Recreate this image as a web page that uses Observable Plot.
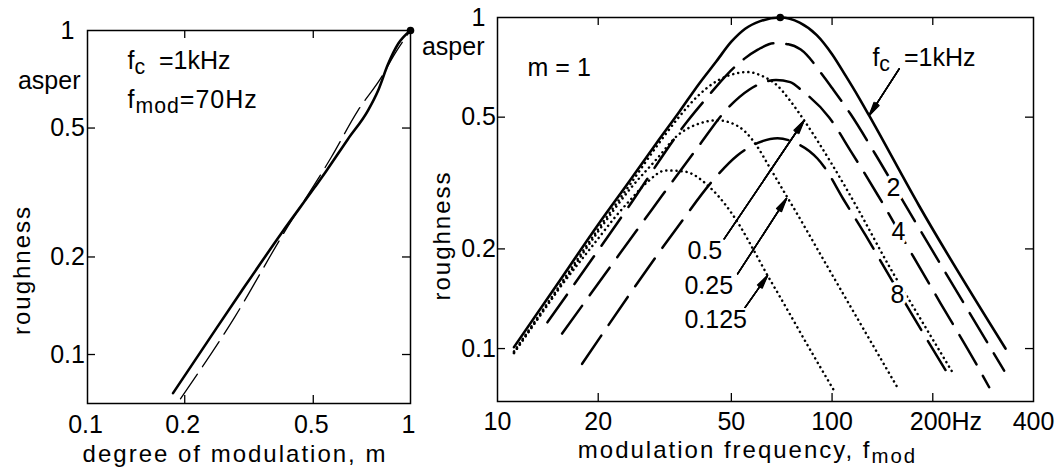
<!DOCTYPE html>
<html>
<head>
<meta charset="utf-8">
<script src="https://cdn.jsdelivr.net/npm/d3@7"></script>
<script src="https://cdn.jsdelivr.net/npm/@observablehq/plot@0.6"></script>
<style>
  html, body { margin: 0; padding: 0; background: #fff; }
  #wrap { position: relative; width: 1059px; height: 469px; overflow: hidden; background: #fff; }
  #left { position: absolute; left: 0; top: 0; }
  #right { position: absolute; left: 430px; top: 0; }
  svg { overflow: visible; }
</style>
</head>
<body>
<div id="wrap"><div id="left"></div><div id="right"></div></div>
<script>
// ---------- data: left panel (roughness vs degree of modulation, fc = 1 kHz, fmod = 70 Hz)
const mSolid   = [0.184, 0.25, 0.3, 0.4, 0.505, 0.548, 0.64, 0.739, 0.794, 0.853, 0.916, 1.0];
const rSolidM  = [0.076, 0.120, 0.157, 0.238, 0.328, 0.368, 0.462, 0.567, 0.653, 0.789, 0.910, 1.0];
const mDash    = [0.194, 0.285, 0.4, 0.569, 0.688, 0.813, 0.894, 1.0];
const rDashM   = [0.073, 0.130, 0.232, 0.407, 0.567, 0.718, 0.847, 1.0];
const leftXTicks = [0.1, 0.2, 0.5, 1];
const leftYTicks = [0.1, 0.2, 0.5, 1];

// ---------- data: right panel (roughness vs modulation frequency, m = 1)
const fmod_1k   = [11.2, 15, 20, 25, 30, 35, 40, 45, 50, 55, 61, 70, 80, 90, 100, 110, 120, 129, 182, 330];
const rough_1k  = [0.101, 0.155, 0.237, 0.324, 0.42, 0.52, 0.63, 0.735, 0.845, 0.925, 0.975, 1.0, 0.965, 0.885, 0.775, 0.665, 0.575, 0.506, 0.27, 0.1];
const fmod_2k   = [14.1, 24.2, 36.9, 42.4, 48.7, 54.6, 60, 67, 74, 80.6, 94.7, 100.3, 113.7, 135, 164.3, 326.8];
const rough_2k  = [0.120, 0.261, 0.485, 0.575, 0.675, 0.75, 0.80, 0.836, 0.83, 0.80, 0.66, 0.61, 0.51, 0.385, 0.275, 0.0858];
const fmod_4k   = [15.6, 29.1, 40, 48.1, 56.5, 62, 68, 75, 81.5, 97.9, 113.7, 137.2, 169.7, 211, 272, 294.8];
const rough_4k  = [0.111, 0.265, 0.41, 0.524, 0.605, 0.635, 0.648, 0.638, 0.60, 0.50, 0.395, 0.29, 0.2, 0.137, 0.0885, 0.0764];
const fmod_8k   = [17.9, 34.5, 44.4, 52.1, 60, 68.7, 77, 90.4, 94.5, 108, 125.9, 141.4, 171.5, 218.8];
const rough_8k  = [0.0899, 0.2325, 0.325, 0.383, 0.418, 0.432, 0.42, 0.375, 0.355, 0.283, 0.22, 0.18, 0.129, 0.0858];
const fmod_05k  = [11.2, 15, 20, 25, 30, 34.5, 39.6, 45.5, 50, 55.9, 62, 68.6, 75, 82.5, 100, 119.2, 149.7, 177.8, 229];
const rough_05k = [0.098, 0.15, 0.23, 0.315, 0.41, 0.494, 0.578, 0.645, 0.672, 0.684, 0.665, 0.623, 0.56, 0.489, 0.36, 0.265, 0.174, 0.130, 0.0848];
const fmod_025k = [11.2, 15, 20, 25, 30, 34.5, 40, 45.5, 50, 54.6, 60, 64.2, 73.4, 76.1, 95, 119.2, 156.7];
const rough_025k= [0.097, 0.148, 0.226, 0.305, 0.375, 0.44, 0.478, 0.489, 0.48, 0.455, 0.405, 0.361, 0.287, 0.27, 0.183, 0.123, 0.0764];
const fmod_0125k= [11.2, 15, 20, 22.5, 25, 28, 31.8, 36, 43.4, 47.6, 53, 58.5, 64.2, 68.6, 86.6, 101.4];
const rough_0125k=[0.097, 0.148, 0.215, 0.25, 0.282, 0.318, 0.345, 0.343, 0.305, 0.275, 0.235, 0.197, 0.166, 0.148, 0.098, 0.0746];
const rightXTicks = [10, 20, 50, 100, 200, 400];
const rightXTickLabels = ["10", "20", "50", "100", "200Hz", "400"];
const rightYTicks = [0.1, 0.2, 0.5, 1];

const zip = (xs, ys) => xs.map((x, i) => ({x, y: ys[i]}));
const FONT = "'Liberation Sans', Arial, Helvetica, sans-serif";
const labelTexts = new Set(["roughness", "degree of modulation, m", "modulation frequency, f{mod}"]);
const noteTexts = new Set(["f{mod}=70Hz"]);

function arrowMarks(data) {
  return [24, 16, 10, 5].map(a => Plot.arrow(data, {
    x1: "x1", y1: "y1", x2: "x2", y2: "y2",
    headAngle: a, headLength: 15, strokeWidth: 1.4, stroke: "black"
  }));
}

function finishText(svg) {
  d3.select(svg).selectAll("text").each(function() {
    const t = this.textContent;
    if (labelTexts.has(t)) this.style.letterSpacing = "2px";
    if (noteTexts.has(t)) this.style.letterSpacing = "1px";
    if (t.includes("{")) {
      const parts = t.split(/(\{[^}]*\})/).filter(p => p.length);
      this.textContent = "";
      let shifted = false;
      for (const p of parts) {
        const ts = d3.select(this).append("tspan");
        if (p.startsWith("{")) {
          ts.text(p.slice(1, -1)).attr("font-size", "0.85em").attr("dy", shifted ? 0 : 5);
          shifted = true;
        } else {
          ts.text(p).attr("dy", shifted ? -5 : 0);
          shifted = false;
        }
      }
    }
  });
}

// ---------------- left panel
const LH = 403 - 30, LW = 410 - 87;
const left = Plot.plot({
  width: 430, height: 469,
  marginLeft: 87, marginRight: 20, marginTop: 30, marginBottom: 66,
  x: {type: "log", domain: [0.1, 1], axis: null},
  y: {type: "log", domain: [0.0706, 1], axis: null},
  style: {fontFamily: FONT, fontSize: "25px", color: "black", background: "white"},
  marks: [
    Plot.frame({stroke: "black", strokeWidth: 1.5}),
    Plot.tickX(leftXTicks.slice(1, -1), {x: d => d, insetTop: LH - 8, strokeWidth: 1.3}),
    Plot.tickX(leftXTicks.slice(1, -1), {x: d => d, insetBottom: LH - 8, strokeWidth: 1.3}),
    Plot.tickY(leftYTicks.slice(0, -1), {y: d => d, insetRight: LW - 8, strokeWidth: 1.3}),
    Plot.tickY(leftYTicks.slice(0, -1), {y: d => d, insetLeft: LW - 8, strokeWidth: 1.3}),
    Plot.text(leftXTicks, {x: d => d, frameAnchor: "bottom", textAnchor: "middle", lineAnchor: "top", dy: 12, dx: -2, text: d => String(d)}),
    Plot.text(leftYTicks, {y: d => d, frameAnchor: "left", textAnchor: "middle", dx: -20, text: d => String(d)}),
    Plot.line(zip(mDash, rDashM), {x: "x", y: "y", stroke: "black", strokeWidth: 1.3, strokeDasharray: "30,9", curve: "monotone-x"}),
    Plot.line(zip(mSolid, rSolidM), {x: "x", y: "y", stroke: "black", strokeWidth: 2.6, curve: "monotone-x"}),
    Plot.dot([[1, 1]], {x: d => d[0], y: d => d[1], r: 3.8, fill: "black"}),
    Plot.text(["f{c}\u00A0 =1kHz"], {x: () => 0.133, y: () => 0.763, textAnchor: "start", lineAnchor: "bottom", text: d => d}),
    Plot.text(["f{mod}=70Hz"], {x: () => 0.133, y: () => 0.578, textAnchor: "start", lineAnchor: "bottom", text: d => d}),
    Plot.text(["asper"], {y: () => 0.662, frameAnchor: "left", textAnchor: "end", lineAnchor: "bottom", dx: -7, text: d => d}),
    Plot.text(["roughness"], {frameAnchor: "left", textAnchor: "middle", rotate: -90, dx: -58, dy: 53, lineAnchor: "bottom", text: d => d, fontSize: 24}),
    Plot.text(["degree of modulation, m"], {frameAnchor: "bottom", textAnchor: "middle", dx: -14, dy: 58, lineAnchor: "bottom", text: d => d, fontSize: 24})
  ]
});
finishText(left);
document.getElementById("left").appendChild(left);

// ---------------- right panel
const RH = 401 - 17, RW = 1033 - 497;
const dashed = {stroke: "black", strokeWidth: 2.5, strokeDasharray: "34,13", curve: "monotone-x"};
const dotted = {stroke: "black", strokeWidth: 2.5, strokeDasharray: "0.1,5", strokeLinecap: "round", curve: "monotone-x"};
const halo = {stroke: "white", strokeWidth: 7, fill: "black"};
const right = Plot.plot({
  width: 629, height: 469,
  marginLeft: 67, marginRight: 26, marginTop: 17, marginBottom: 68,
  x: {type: "log", domain: [10, 400], axis: null},
  y: {type: "log", domain: [0.0692, 1], axis: null},
  style: {fontFamily: FONT, fontSize: "25px", color: "black", background: "white"},
  marks: [
    Plot.frame({stroke: "black", strokeWidth: 1.5}),
    Plot.tickX(rightXTicks.slice(1, -1), {x: d => d, insetTop: RH - 8, strokeWidth: 1.3}),
    Plot.tickX(rightXTicks.slice(1, -1), {x: d => d, insetBottom: RH - 8, strokeWidth: 1.3}),
    Plot.tickY(rightYTicks.slice(0, -1), {y: d => d, insetRight: RW - 8, strokeWidth: 1.3}),
    Plot.tickY(rightYTicks.slice(0, -1), {y: d => d, insetLeft: RW - 8, strokeWidth: 1.3}),
    Plot.text(rightXTicks.filter((d, i) => !rightXTickLabels[i].includes("Hz")),
      {x: d => d, frameAnchor: "bottom", textAnchor: "middle", lineAnchor: "top", dy: 11, text: d => rightXTickLabels[rightXTicks.indexOf(d)]}),
    Plot.text(rightXTicks.filter((d, i) => rightXTickLabels[i].includes("Hz")),
      {x: d => d, frameAnchor: "bottom", lineAnchor: "top", dy: 11, textAnchor: "start", dx: -23, text: d => rightXTickLabels[rightXTicks.indexOf(d)]}),
    Plot.text(rightYTicks, {y: d => d, frameAnchor: "left", textAnchor: "middle", dx: -19, text: d => String(d)}),
    // curves
    Plot.line(zip(fmod_0125k, rough_0125k), {x: "x", y: "y", ...dotted}),
    Plot.line(zip(fmod_025k, rough_025k), {x: "x", y: "y", ...dotted}),
    Plot.line(zip(fmod_05k, rough_05k), {x: "x", y: "y", ...dotted}),
    Plot.line(zip(fmod_8k, rough_8k), {x: "x", y: "y", ...dashed}),
    Plot.line(zip(fmod_4k, rough_4k), {x: "x", y: "y", ...dashed}),
    Plot.line(zip(fmod_2k, rough_2k), {x: "x", y: "y", ...dashed}),
    Plot.line(zip(fmod_1k, rough_1k), {x: "x", y: "y", stroke: "black", strokeWidth: 2.6, curve: "monotone-x"}),
    Plot.dot([[70, 1]], {x: d => d[0], y: d => d[1], r: 3.8, fill: "black"}),
    // annotations
    ...arrowMarks([
      {x1: 158.7, y1: 0.700, x2: 129.1, y2: 0.506},
      {x1: 47.6, y1: 0.2145, x2: 82.5, y2: 0.4885},
      {x1: 52.2, y1: 0.168, x2: 73.1, y2: 0.284},
      {x1: 54.6, y1: 0.1318, x2: 64.1, y2: 0.166}
    ]),
    Plot.text(["2"], {x: () => 152.6, y: () => 0.3064, ...halo, text: d => d}),
    Plot.text(["4"], {x: () => 157.9, y: () => 0.2257, ...halo, text: d => d}),
    Plot.text(["8"], {x: () => 156.8, y: () => 0.1456, ...halo, text: d => d}),
    Plot.text(["0.5"], {x: () => 36.98, y: () => 0.187, textAnchor: "start", lineAnchor: "bottom", ...halo, strokeWidth: 4, text: d => d}),
    Plot.text(["0.25"], {x: () => 36.2, y: () => 0.1466, textAnchor: "start", lineAnchor: "bottom", ...halo, strokeWidth: 4, text: d => d}),
    Plot.text(["0.125"], {x: () => 36.2, y: () => 0.1157, textAnchor: "start", lineAnchor: "bottom", ...halo, strokeWidth: 4, text: d => d}),
    Plot.text(["f{c}\u00A0 =1kHz"], {x: () => 132.0, y: () => 0.716, textAnchor: "start", lineAnchor: "bottom", text: d => d}),
    Plot.text(["m = 1"], {x: () => 12.3, y: () => 0.668, textAnchor: "start", lineAnchor: "bottom", text: d => d}),
    Plot.text(["asper"], {y: () => 0.768, frameAnchor: "left", textAnchor: "end", lineAnchor: "bottom", dx: -13, text: d => d}),
    Plot.text(["roughness"], {frameAnchor: "left", textAnchor: "middle", rotate: -90, dx: -48, dy: 26, lineAnchor: "bottom", text: d => d, fontSize: 24}),
    Plot.text(["modulation frequency, f{mod}"], {frameAnchor: "bottom", textAnchor: "middle", dx: -18, dy: 56, lineAnchor: "bottom", text: d => d, fontSize: 24})
  ]
});
finishText(right);
document.getElementById("right").appendChild(right);
</script>
</body>
</html>
